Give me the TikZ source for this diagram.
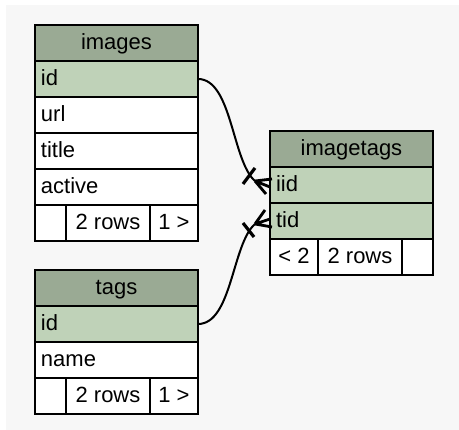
\documentclass[tikz,border=0pt]{standalone}
\usepackage{fontspec}
\setmainfont{Liberation Sans}
\usetikzlibrary{calc}

\definecolor{pagebg}{RGB}{247,247,247}
\definecolor{headfill}{RGB}{154,170,148}
\definecolor{keyfill}{RGB}{191,210,184}

\tikzset{
  cell/.style={draw=black, line width=2pt, inner sep=0pt, outer sep=0pt,
    minimum height=36pt, text height=17pt, text depth=3pt,
    font=\fontsize{22}{26}\selectfont},
  headcell/.style={cell, fill=headfill, text width=163pt, align=center},
  fieldcell/.style={cell, fill=white, inner xsep=6pt, text width=151pt, align=left},
  keycell/.style={fieldcell, fill=keyfill},
  footcell/.style={cell, fill=white, align=center, minimum width=#1},
  link/.style={draw=black, line width=2pt},
  crow/.style={draw=black, line width=2.8pt},
  teebar/.style={draw=black, line width=3.2pt},
}

\begin{document}
\begin{tikzpicture}[x=1pt, y=-1pt]
  \useasboundingbox (0,0) rectangle (459,430);
  \fill[pagebg] (6,5) rectangle (459,430);

  % table: images
  \node[headcell, anchor=north west] (img-h) at (35,25) {images};
  \node[keycell, anchor=north west] (img-id) at (img-h.south west) {id};
  \node[fieldcell, anchor=north west] (img-url) at (img-id.south west) {url};
  \node[fieldcell, anchor=north west] (img-title) at (img-url.south west) {title};
  \node[fieldcell, anchor=north west] (img-active) at (img-title.south west) {active};
  \node[footcell=31pt, anchor=north west] (img-f1) at (img-active.south west) {};
  \node[footcell=84pt, anchor=north west] (img-f2) at (img-f1.north east) {2 rows};
  \node[footcell=48pt, anchor=north west] (img-f3) at (img-f2.north east) {1 >};

  % table: tags
  \node[headcell, anchor=north west] (tag-h) at (35,270) {tags};
  \node[keycell, anchor=north west] (tag-id) at (tag-h.south west) {id};
  \node[fieldcell, anchor=north west] (tag-name) at (tag-id.south west) {name};
  \node[footcell=31pt, anchor=north west] (tag-f1) at (tag-name.south west) {};
  \node[footcell=84pt, anchor=north west] (tag-f2) at (tag-f1.north east) {2 rows};
  \node[footcell=48pt, anchor=north west] (tag-f3) at (tag-f2.north east) {1 >};

  % table: imagetags
  \node[headcell, anchor=north west] (it-h) at (270,131) {imagetags};
  \node[keycell, anchor=north west] (it-iid) at (it-h.south west) {iid};
  \node[keycell, anchor=north west] (it-tid) at (it-iid.south west) {tid};
  \node[footcell=48pt, anchor=north west] (it-f1) at (it-tid.south west) {< 2};
  \node[footcell=84pt, anchor=north west] (it-f2) at (it-f1.north east) {2 rows};
  \node[footcell=31pt, anchor=north west] (it-f3) at (it-f2.north east) {};

  % images.id -> imagetags.iid
  \coordinate (foot1) at ($(it-iid.west)+(-15,-4)$);
  \draw[link] (img-id.east) .. controls +(34,0) and +(-23,-20) .. (foot1);
  \draw[crow] (foot1) -- ($(it-iid.west)+(2,-6)$)
              (foot1) -- ($(it-iid.west)+(0,2)$)
              (foot1) -- ($(it-iid.west)+(-4,9)$);
  \draw[teebar] ($(it-iid.west)+(-27,-1)$) -- ($(it-iid.west)+(-15,-17)$);

  % tags.id -> imagetags.tid
  \coordinate (foot2) at ($(it-tid.west)+(-15,3)$);
  \draw[link] (tag-id.east) .. controls +(34,0) and +(-23,20) .. (foot2);
  \draw[crow] (foot2) -- ($(it-tid.west)+(2,6)$)
              (foot2) -- ($(it-tid.west)+(0,-2)$)
              (foot2) -- ($(it-tid.west)+(-5,-11)$);
  \draw[teebar] ($(it-tid.west)+(-27,2)$) -- ($(it-tid.west)+(-16,16)$);
\end{tikzpicture}
\end{document}
